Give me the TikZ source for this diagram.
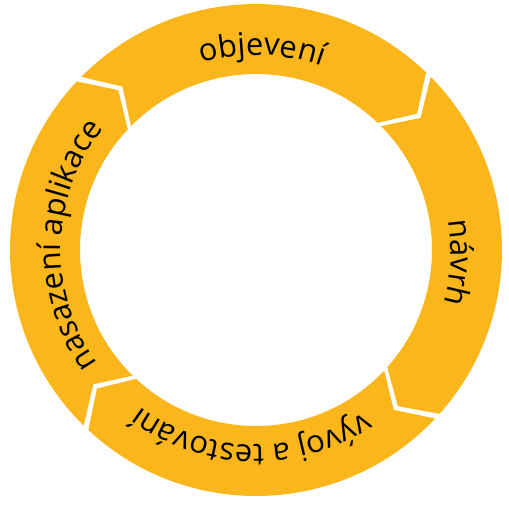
\documentclass[tikz,border=0pt]{standalone}
\usepackage{fontspec}
\setmainfont{Open Sans}
\usetikzlibrary{decorations.text}
\definecolor{ringorange}{RGB}{251,182,28}
\def\ringout{246pt}
\def\ringin{176pt}
\def\ringmid{211pt}
\def\hgap{0.75}
\def\tipd{6}
\def\textr{195pt}
\newcommand\labelfont{\fontsize{31}{31}\selectfont}
% segment from boundary angle #1 (start) clockwise to boundary angle #2 (end)
\newcommand\ringseg[2]{%
  \fill[segfill] (#1-\hgap:\ringout)
    arc[start angle=#1-\hgap, end angle=#2+\hgap, radius=\ringout]
    -- (#2-\tipd+\hgap:\ringmid) -- (#2+\hgap:\ringin)
    arc[start angle=#2+\hgap, end angle=#1-\hgap, radius=\ringin]
    -- (#1-\tipd-\hgap:\ringmid) -- cycle;}
\newcommand\arclabel[2]{%
  \path[decorate, decoration={text along path, text align=center,
      text={|\labelfont|#2}}]
    (#1+60:\textr) arc[start angle=#1+60, end angle=#1-60, radius=\textr];}
\begin{document}
\begin{tikzpicture}[x=1pt, y=1pt, segfill/.style={fill=ringorange}]
\useasboundingbox (-256,-254) rectangle (253,250);
\coordinate (c) at (0,0);
\ringseg{136}{45.5}
\ringseg{45.5}{-42.5}
\ringseg{-42.5}{-133.7}
\ringseg{-133.7}{-224}
\arclabel{88.3}{objevení}
\arclabel{-3.6}{návrh}
\arclabel{-91.5}{vývoj a testování}
\arclabel{178.5}{nasazení aplikace}
\end{tikzpicture}
\end{document}
